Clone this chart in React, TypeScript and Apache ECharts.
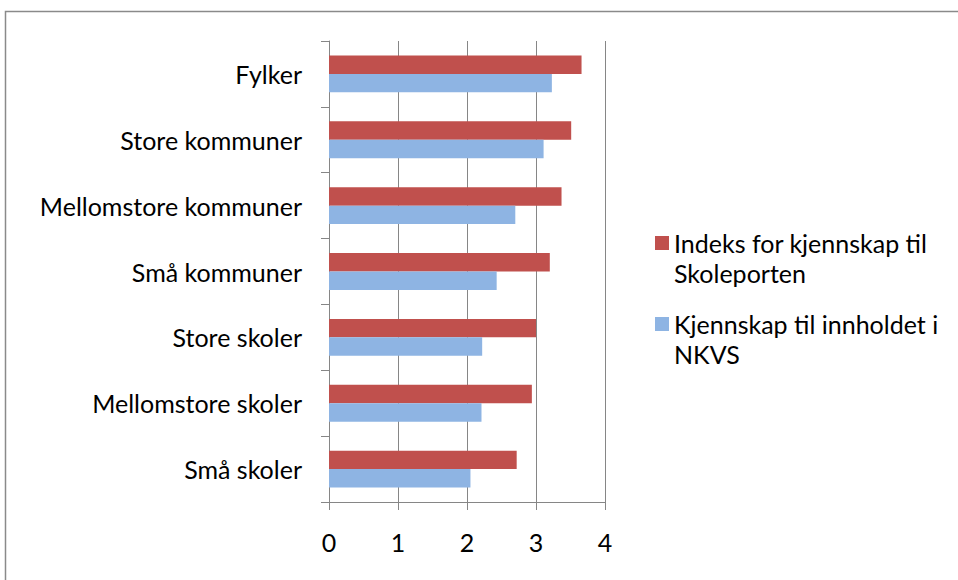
import React, { useEffect, useRef } from "react";
import * as echarts from "echarts";

const categories = [
  "Små skoler",
  "Mellomstore skoler",
  "Store skoler",
  "Små kommuner",
  "Mellomstore kommuner",
  "Store kommuner",
  "Fylker",
];
const seriesNames = ["Indeks for kjennskap til Skoleporten", "Kjennskap til innholdet i NKVS"];
const legendLines = [
  ["Indeks for kjennskap til", "Skoleporten"],
  ["Kjennskap til innholdet i", "NKVS"],
];
const skoleporten = [2.72, 2.94, 3.0, 3.2, 3.37, 3.51, 3.66];
const nkvs = [2.05, 2.21, 2.22, 2.43, 2.7, 3.11, 3.23];
const xTicks = { min: 0, max: 4, interval: 1 };

const FONT = "Lato";
const FS = 25;
const GRAY = "#868686";

export default function App() {
  const ref = useRef<HTMLDivElement>(null);
  useEffect(() => {
    document.body.style.margin = "0";
    const chart = echarts.init(ref.current!, null, { renderer: "svg" });
    const legendText = { fontSize: FS, fontFamily: FONT, color: "#000", lineHeight: 30 };
    chart.setOption({
      animation: false,
      backgroundColor: "#ffffff",
      textStyle: { fontFamily: FONT },
      grid: { left: 329, top: 41, width: 276, height: 461, containLabel: false },
      xAxis: {
        type: "value",
        min: xTicks.min,
        max: xTicks.max,
        interval: xTicks.interval,
        axisLine: { show: true, lineStyle: { color: GRAY, width: 1 } },
        axisTick: { show: true, length: 8, lineStyle: { color: GRAY } },
        splitLine: { show: true, lineStyle: { color: GRAY, width: 1 } },
        axisLabel: { color: "#000", fontSize: FS, fontFamily: FONT, margin: 27 },
      },
      yAxis: {
        type: "category",
        data: categories,
        axisLine: { show: true, lineStyle: { color: GRAY, width: 1 } },
        axisTick: { show: true, length: 8, lineStyle: { color: GRAY } },
        axisLabel: { color: "#000", fontSize: FS, fontFamily: FONT, margin: 27 },
      },
      legend: [
        {
          data: [seriesNames[0]],
          left: 650,
          top: 193,
          orient: "vertical",
          itemWidth: 14,
          itemHeight: 14,
          icon: "rect",
          formatter: () => "\n" + legendLines[0].join("\n"),
          textStyle: legendText,
        },
        {
          data: [seriesNames[1]],
          left: 650,
          top: 274,
          orient: "vertical",
          itemWidth: 14,
          itemHeight: 14,
          icon: "rect",
          formatter: () => "\n" + legendLines[1].join("\n"),
          textStyle: legendText,
        },
      ],
      graphic: [
        {
          type: "rect",
          shape: { x: 5.5, y: 11.5, width: 1200, height: 1200 },
          style: { fill: "none", stroke: "#8a8a8a", lineWidth: 1.5 },
          silent: true,
        },
      ],
      series: [
        {
          name: seriesNames[0],
          type: "bar",
          data: skoleporten,
          itemStyle: { color: "#C0504D" },
          barGap: "0%",
          barCategoryGap: "44%",
        },
        {
          name: seriesNames[1],
          type: "bar",
          data: nkvs,
          itemStyle: { color: "#8EB4E3" },
          barGap: "0%",
          barCategoryGap: "44%",
        },
      ],
    });
    return () => chart.dispose();
  }, []);
  return <div ref={ref} style={{ width: 958, height: 580 }} />;
}
